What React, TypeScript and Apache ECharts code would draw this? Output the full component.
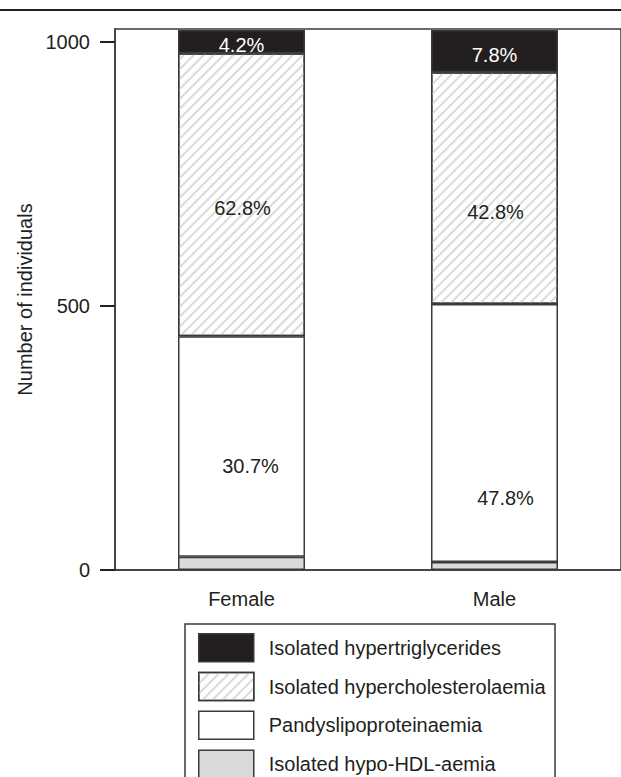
import React, { useEffect, useRef } from "react";
import * as echarts from "echarts";

const categories = ["Female", "Male"];
const legendOrder = [
  "Isolated hypertriglycerides",
  "Isolated hypercholesterolaemia",
  "Pandyslipoproteinaemia",
  "Isolated hypo-HDL-aemia",
];
const hypoHDL = [25, 15];
const pandys = [418, 489];
const hyperchol = [536, 439];
const hypertrig = [44, 80];
const pandysPct = ["30.7%", "47.8%"];
const hypercholPct = ["62.8%", "42.8%"];
const hypertrigPct = ["4.2%", "7.8%"];
const yTicks = [0, 500, 1000];

const FONT = "'Liberation Sans', Arial, Helvetica, sans-serif";
const INK = "#231f20";
const EDGE = "#3a3a3a";

// label nudges (style only)
const pandysOffsets = [[9, 20], [11, 65]];
const cholOffsets = [[1, 13], [1, 24]];
const trigOffsets = [[0, 3], [0, 4]];

function withLabels(values: number[], texts: string[] | null, offsets: number[][] | null) {
  return values.map((v, i) => ({
    value: v,
    label: texts ? { show: true, offset: offsets ? offsets[i] : [0, 0], formatter: texts[i] } : { show: false },
  }));
}

export default function App() {
  const ref = useRef<HTMLDivElement>(null);
  useEffect(() => {
    if (!ref.current) return;
    const chart = echarts.init(ref.current, null, { renderer: "svg" });
    const baseItem = { borderColor: EDGE, borderWidth: 1.5 };
    const labelBase = { position: "inside", fontFamily: FONT, fontSize: 20, color: INK };
    chart.setOption({
      animation: false,
      grid: {
        left: 115,
        right: -4.5,
        top: 29,
        bottom: 207,
        show: true,
        borderColor: EDGE,
        borderWidth: 1.5,
        backgroundColor: "transparent",
      },
      graphic: [
        {
          type: "line",
          shape: { x1: 0, y1: 10, x2: 621, y2: 10 },
          style: { stroke: INK, lineWidth: 2 },
        },
        {
          type: "rect",
          shape: { x: 185, y: 624, width: 370, height: 200 },
          style: { fill: "transparent", stroke: EDGE, lineWidth: 1.5 },
        },
      ],
      legend: {
        data: legendOrder,
        orient: "vertical",
        left: 198,
        top: 633,
        width: 360,
        height: 200,
        padding: 0,
        icon: "rect",
        itemWidth: 55,
        itemHeight: 28,
        itemGap: 9.3,
        selectedMode: false,
        itemStyle: { borderColor: EDGE, borderWidth: 1.5 },
        textStyle: { fontFamily: FONT, fontSize: 20, color: INK, padding: [0, 0, 0, 10] },
      },
      xAxis: {
        type: "category",
        data: categories,
        axisLine: { lineStyle: { color: EDGE, width: 1.5 } },
        axisTick: { alignWithLabel: true, length: 14, lineStyle: { color: INK, width: 2 } },
        axisLabel: { fontFamily: FONT, fontSize: 20, color: INK, margin: 19 },
      },
      yAxis: {
        type: "value",
        min: 0,
        max: 1025,
        name: "Number of individuals",
        nameLocation: "middle",
        nameGap: 80,
        nameTextStyle: { fontFamily: FONT, fontSize: 20, color: INK },
        splitLine: { show: false },
        axisLine: { show: true, lineStyle: { color: EDGE, width: 1.5 } },
        axisTick: { show: true, length: 15, customValues: yTicks, lineStyle: { color: INK, width: 2 } },
        axisLabel: {
          fontFamily: FONT,
          fontSize: 20,
          color: INK,
          margin: 25,
          customValues: yTicks,
          formatter: (v: number) => String(v),
        },
      },
      series: [
        {
          name: "Isolated hypo-HDL-aemia",
          type: "bar",
          stack: "all",
          barWidth: 127,
          itemStyle: { ...baseItem, color: "#d9dadb" },
          label: labelBase,
          data: withLabels(hypoHDL, null, null),
        },
        {
          name: "Pandyslipoproteinaemia",
          type: "bar",
          stack: "all",
          barWidth: 127,
          itemStyle: { ...baseItem, color: "#ffffff" },
          label: labelBase,
          data: withLabels(pandys, pandysPct, pandysOffsets),
        },
        {
          name: "Isolated hypercholesterolaemia",
          type: "bar",
          stack: "all",
          barWidth: 127,
          itemStyle: {
            ...baseItem,
            color: "#ffffff",
            decal: {
              symbol: "rect",
              symbolSize: 1,
              dashArrayX: [1, 0],
              dashArrayY: [2, 4.5],
              rotation: -Math.PI / 4,
              color: "#dadada",
            },
          },
          label: labelBase,
          data: withLabels(hyperchol, hypercholPct, cholOffsets),
        },
        {
          name: "Isolated hypertriglycerides",
          type: "bar",
          stack: "all",
          barWidth: 127,
          itemStyle: { ...baseItem, color: INK },
          label: { ...labelBase, color: "#ffffff" },
          data: withLabels(hypertrig, hypertrigPct, trigOffsets),
        },
      ],
    });
    return () => chart.dispose();
  }, []);
  return (
    <div
      ref={ref}
      style={{ position: "absolute", left: 0, top: 0, width: 621, height: 777 }}
    />
  );
}
